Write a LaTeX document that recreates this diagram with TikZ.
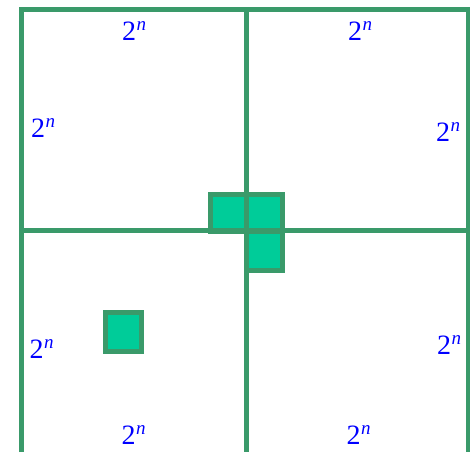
\documentclass[tikz,border=0pt]{standalone}
\usepackage{fontspec}
\setmainfont{Liberation Serif}
\usepackage{tikz}
\definecolor{gridgreen}{HTML}{3A9A6A}
\definecolor{cellfill}{HTML}{00CC99}
\definecolor{labelblue}{HTML}{0000FF}
\newcommand{\twopow}{2\kern0.5pt\raisebox{10pt}{\fontsize{19}{20}\selectfont\itshape n}}

\begin{document}
\begin{tikzpicture}[x=1pt, y=-1pt,
    gridline/.style={draw=gridgreen, line width=5pt},
    cell/.style={draw=gridgreen, fill=cellfill, line width=5pt},
    size/.style={text=labelblue, inner sep=0pt, font=\fontsize{28}{30}\selectfont},
]
\useasboundingbox (0,0) rectangle (470,452);

% marked cells
\draw[cell] (210,194) rectangle (246,231);
\draw[cell] (246,194) rectangle (282,231);
\draw[cell] (246,231) rectangle (282,270);
\draw[cell] (105,312) rectangle (141,351);

% quadrant lines
\draw[gridline] (21.5,452) -- (21.5,10) -- (468,10) -- (468,452);
\draw[gridline] (246.5,10) -- (246.5,452);
\draw[gridline] (21.5,230.5) -- (470,230.5);

% side lengths
\node[size] (tl) at (134,31.5) {\twopow};
\node[size] (tr) at (360,31.5) {\twopow};
\node[size] (lu) at (43,128.5) {\twopow};
\node[size] (ru) at (448,132.5) {\twopow};
\node[size] (ll) at (41.5,349.5) {\twopow};
\node[size] (rl) at (449,345) {\twopow};
\node[size] (bl) at (133.5,435.5) {\twopow};
\node[size] (br) at (358.5,435.5) {\twopow};

\end{tikzpicture}
\end{document}
